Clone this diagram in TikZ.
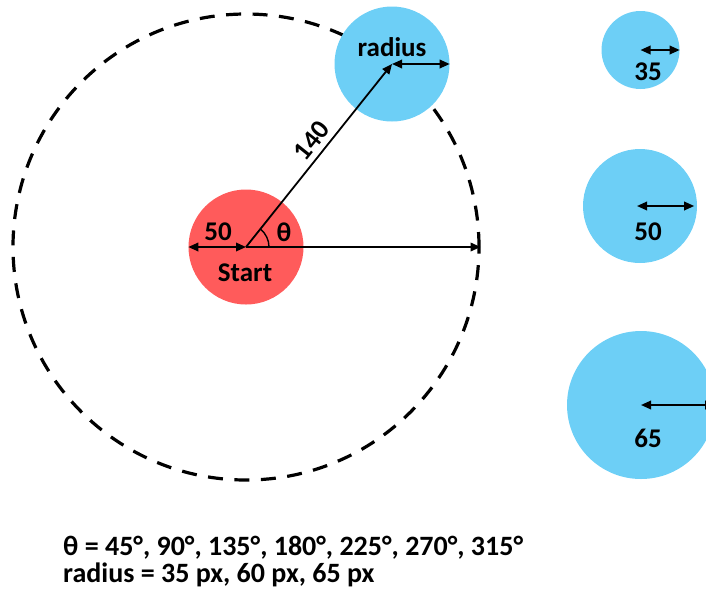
\documentclass[tikz,border=0pt]{standalone}
\usepackage{fontspec}
\setmainfont{Carlito}
\usetikzlibrary{arrows.meta}
\definecolor{startred}{HTML}{FF5B5B}
\definecolor{targetblue}{HTML}{6DCFF6}
\begin{document}
\begin{tikzpicture}[x=1pt,y=-1pt,
  ball/.style={circle,inner sep=0pt,draw=none},
  ring/.style={circle,inner sep=0pt,draw=black,line width=3.2pt,dash pattern=on 15pt off 11.5pt},
  measure/.style={line width=1.8pt,{Triangle[length=10pt,width=8.5pt]}-{Triangle[length=10pt,width=8.5pt]}},
  ray/.style={line width=1.8pt,-{Triangle[length=10pt,width=8.5pt]}},
  lbl/.style={font=\fontsize{27}{32}\selectfont\bfseries,inner sep=0pt},
  note/.style={font=\fontsize{28}{33}\selectfont\bfseries,inner sep=0pt,anchor=base west}]
  \useasboundingbox (0,0) rectangle (706,598);
  \clip (0,0) rectangle (706,598);

  % search ring around the start point
  \node[ring,minimum size=466pt] (ring) at (246,247) {};

  % start and candidate circles
  \node[ball,fill=targetblue,minimum size=115pt] (target) at (392,64) {};
  \node[ball,fill=startred,minimum size=115pt] (start) at (246,247) {};

  % distance, angle and radius measures
  \draw[ray] (start.center) -- (target.center)
    node[lbl,pos=0.53,sloped,above=5pt] (dist) {140};
  \draw[ray] (start.center) -- (ring.east);
  \draw[measure] (start.west) -- (start.center);
  \draw[measure] (target.center) -- (target.east);
  \draw[line width=1.4pt] ([shift={(0:23pt)}]start.center) arc[start angle=0,end angle=51,radius=23pt];

  \node[lbl] (rlabel) at (392,47) {radius};
  \node[lbl] (fifty) at (218,232) {50};
  \node[lbl] (theta) at (284,232) {θ};
  \node[lbl] (startlabel) at (245,273) {Start};

  % radius samples
  \node[ball,fill=targetblue,minimum size=78pt] (s35) at (640.5,50) {};
  \node[ball,fill=targetblue,minimum size=114pt] (s50) at (640,206) {};
  \node[ball,fill=targetblue,minimum size=148pt] (s65) at (641,405) {};
  \draw[measure] (s35.center) -- (s35.east);
  \draw[measure] ([xshift=-3pt]s50.center) -- ([xshift=-3pt]s50.east);
  \draw[measure] (s65.center) -- (s65.east);
  \node[lbl] (l35) at (648,72) {35};
  \node[lbl] (l50) at (648,232) {50};
  \node[lbl] (l65) at (648,438) {65};

  % parameter values
  \node[note] (angles) at (63,555) {θ = 45°, 90°, 135°, 180°, 225°, 270°, 315°};
  \node[note] (radii) at (63,582) {radius = 35 px, 60 px, 65 px};
\end{tikzpicture}
\end{document}
